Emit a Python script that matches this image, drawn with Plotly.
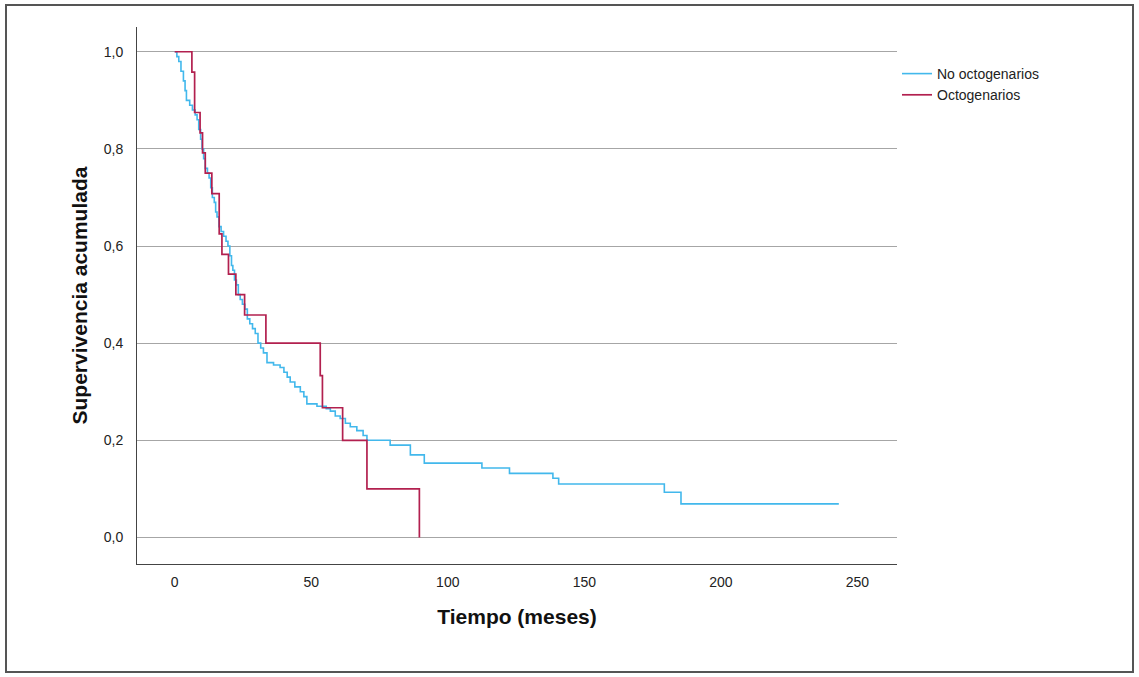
import plotly.graph_objects as go

# ---- data ----
no_octo_t = [0, 0.8, 1.5, 2.3, 3.2, 3.8, 4.3, 5.5, 6.5, 7.5, 8.2, 8.8, 9.5, 10.0, 10.6, 11.2,
             12.0, 12.6, 13.2, 13.8, 14.5, 15.0, 15.5, 16.2, 17.0, 17.9, 18.8, 19.5, 20.2,
             20.8, 21.3, 21.9, 22.6, 23.3, 24.0, 24.8, 25.7, 26.6, 27.5, 28.5, 29.5, 30.5,
             31.5, 32.5, 33.8, 36.2, 38.6, 40.0, 41.2, 42.3, 44.0, 46.0, 47.3, 48.4, 52.1,
             55.5, 57.0, 58.8, 60.6, 62.5, 64.3, 66.7, 69.0, 70.4, 78.9, 86.3, 91.4, 112.5,
             122.6, 138.5, 140.6, 179.3, 185.4, 243.2]
no_octo_s = [1.0, 0.99, 0.98, 0.96, 0.94, 0.92, 0.90, 0.89, 0.88, 0.87, 0.86, 0.84, 0.82, 0.80,
             0.78, 0.76, 0.75, 0.74, 0.72, 0.70, 0.69, 0.67, 0.66, 0.64, 0.63, 0.62, 0.61, 0.60,
             0.58, 0.56, 0.55, 0.53, 0.52, 0.50, 0.49, 0.48, 0.47, 0.45, 0.44, 0.43, 0.42, 0.40,
             0.39, 0.38, 0.36, 0.355, 0.35, 0.34, 0.33, 0.32, 0.31, 0.30, 0.29, 0.275, 0.27,
             0.265, 0.26, 0.25, 0.245, 0.235, 0.228, 0.22, 0.21, 0.20, 0.19, 0.17, 0.153, 0.143,
             0.132, 0.122, 0.11, 0.093, 0.069, 0.069]

octo_t = [0, 6.3, 7.3, 9.3, 10.2, 11.2, 13.6, 16.3, 17.3, 19.7, 22.4, 25.6, 33.4, 53.3, 54.1,
          61.5, 70.4, 89.6]
octo_s = [1.0, 0.958, 0.875, 0.833, 0.792, 0.75, 0.708, 0.625, 0.583, 0.542, 0.5, 0.458, 0.4,
          0.333, 0.267, 0.2, 0.1, 0.0]

y_ticks = [0.0, 0.2, 0.4, 0.6, 0.8, 1.0]
y_tick_labels = ["0,0", "0,2", "0,4", "0,6", "0,8", "1,0"]
x_ticks = [0, 50, 100, 150, 200, 250]
x_tick_labels = ["0", "50", "100", "150", "200", "250"]

series_names = ["No octogenarios", "Octogenarios"]
colors = ["#42b8ec", "#b2204f"]

FONT = "Liberation Sans, Arial, sans-serif"

fig = go.Figure()
fig.add_trace(go.Scatter(x=no_octo_t, y=no_octo_s, mode="lines", line_shape="hv",
                         name=series_names[0], line=dict(color=colors[0], width=1.6)))
fig.add_trace(go.Scatter(x=octo_t, y=octo_s, mode="lines", line_shape="hv",
                         name=series_names[1], line=dict(color=colors[1], width=1.7)))

L, R, T, B = 137, 242, 27, 113
W, H = 1139, 677
pw, ph = W - L - R, H - T - B

fig.update_layout(
    width=W, height=H,
    margin=dict(l=L, r=R, t=T, b=B),
    paper_bgcolor="white", plot_bgcolor="white",
    font=dict(family=FONT, color="#222222", size=13),
    showlegend=True,
    legend=dict(x=(897 - L) / pw, y=1 - (58 - T) / ph, xanchor="left", yanchor="top",
                font=dict(size=14, color="#222222"), bgcolor="rgba(0,0,0,0)",
                tracegroupgap=0, itemwidth=30),
    xaxis=dict(range=[-13.8, 264.5], tickvals=x_ticks, ticktext=x_tick_labels,
               showgrid=False, zeroline=False, showline=True, linecolor="#444444",
               linewidth=1, ticks="", ticklabelstandoff=5,
               tickfont=dict(size=14, color="#222222"),
               title=dict(text="<b>Tiempo (meses)</b>", font=dict(size=21, color="#111111"),
                          standoff=20)),
    yaxis=dict(range=[-0.0547, 1.051], tickvals=y_ticks, ticktext=y_tick_labels,
               showgrid=True, gridcolor="#a6a6a6", gridwidth=1, zeroline=False,
               showline=True, linecolor="#444444", linewidth=1, ticks="",
               ticklabelstandoff=10,
               tickfont=dict(size=14, color="#222222"),
               title=dict(text="<b>Supervivencia acumulada</b>",
                          font=dict(size=21, color="#111111"), standoff=10)),
)

# outer frame of the picture
fig.add_shape(type="rect", xref="paper", yref="paper",
              x0=(6 - L) / pw, x1=(1133 - L) / pw,
              y0=(H - B - 672) / ph, y1=1 + (T - 5) / ph,
              line=dict(color="#555555", width=2), fillcolor="rgba(0,0,0,0)", layer="below")

fig.write_html("out.html")
